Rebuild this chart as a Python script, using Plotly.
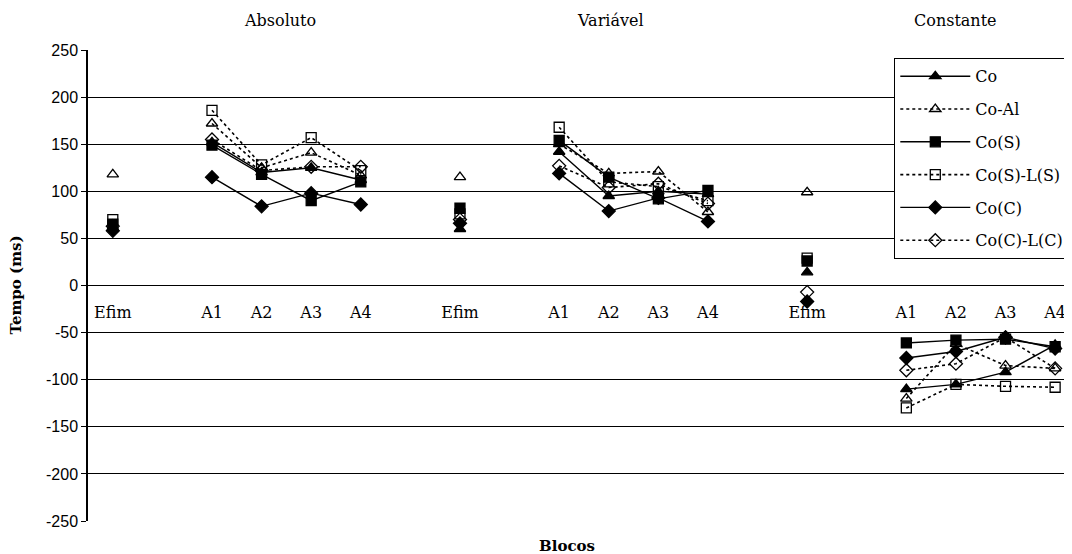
import plotly.graph_objects as go

# Categories along the x axis (three blocks: Absoluto, Variável, Constante)
categories = ["Efim", "", "A1", "A2", "A3", "A4", "",
              "Efim", "", "A1", "A2", "A3", "A4", "",
              "Efim", "", "A1", "A2", "A3", "A4"]
panel_titles = ["Absoluto", "Variável", "Constante"]
y_ticks = [250, 200, 150, 100, 50, 0, -50, -100, -150, -200, -250]

# Values per series: [Efim, A1, A2, A3, A4] for each condition
co_abs = [62, 152, 120, 125, 112]
co_var = [60, 142, 95, 100, 97]
co_con = [14, -110, -105, -92, -63]

coal_abs = [118, 172, 125, 141, 117]
coal_var = [115, 150, 119, 121, 78]
coal_con = [99, -120, -62, -85, -88]

cos_abs = [65, 149, 118, 90, 110]
cos_var = [82, 154, 115, 92, 101]
cos_con = [26, -61, -58, -57, -65]

cosls_abs = [70, 186, 128, 157, 122]
cosls_var = [76, 168, 110, 105, 90]
cosls_con = [29, -130, -105, -107, -108]

coc_abs = [58, 115, 84, 98, 86]
coc_var = [66, 119, 79, 93, 68]
coc_con = [-17, -77, -70, -55, -67]

cocl_abs = [63, 155, 122, 126, 126]
cocl_var = [70, 127, 104, 108, 87]
cocl_con = [-7, -90, -83, -55, -88]

series = [
    ("Co", co_abs, co_var, co_con, "triangle-up", "solid"),
    ("Co-Al", coal_abs, coal_var, coal_con, "triangle-up-open", "dot"),
    ("Co(S)", cos_abs, cos_var, cos_con, "square", "solid"),
    ("Co(S)-L(S)", cosls_abs, cosls_var, cosls_con, "square-open", "dot"),
    ("Co(C)", coc_abs, coc_var, coc_con, "diamond", "solid"),
    ("Co(C)-L(C)", cocl_abs, cocl_var, cocl_con, "diamond-open", "dot"),
]


def build_y(a, v, c):
    # Efim, gap, A1..A4, gap  per panel
    out = []
    for i, p in enumerate((a, v, c)):
        out += [p[0], None] + list(p[1:])
        if i < 2:
            out.append(None)
    return out


x = list(range(len(categories)))
SERIF = "DejaVu Serif"

fig = go.Figure()
for k, (name, a, v, c, sym, dash) in enumerate(series):
    fig.add_trace(go.Scatter(
        x=x, y=build_y(a, v, c), name=name, mode="lines+markers",
        connectgaps=False, legendgroup=f"g{k}",
        line=dict(color="black", width=1.4 if dash == "solid" else 1.6, dash=dash),
        marker=dict(symbol=sym, size=10, color="black",
                    line=dict(color="black", width=1.3)),
    ))

xr = [-0.5, 19.32]
lab_vals = [i for i, t in enumerate(categories) if t]
lab_text = [t for t in categories if t]

# page has an 8px body margin: figure drawn at (8, 8)
PW, PH = 983, 471      # plot area size in px
PL, PB = 88, 521       # plot-area left / bottom in page px

fig.update_layout(
    template="none",
    width=1064, height=546,
    margin=dict(l=80, r=1, t=42, b=33, autoexpand=False),
    plot_bgcolor="white", paper_bgcolor="white",
    font=dict(family=SERIF, color="black", size=16),
    xaxis=dict(range=xr, anchor="free", position=0.5, tickmode="array",
               tickvals=lab_vals, ticktext=lab_text, ticks="outside",
               ticklen=12, tickcolor="rgba(0,0,0,0)", showgrid=False,
               zeroline=False, showline=False, automargin=False,
               tickfont=dict(family=SERIF, size=16, color="black")),
    xaxis2=dict(range=xr, overlaying="x", anchor="free", position=0.5,
                tickmode="array", tickvals=[i + 0.5 for i in range(19)],
                ticks="outside", ticklen=6, tickwidth=1.3, tickcolor="black",
                showticklabels=False, showgrid=False, zeroline=False,
                showline=False, automargin=False),
    xaxis3=dict(range=xr, overlaying="x", anchor="y", side="bottom",
                showline=True, linecolor="black", linewidth=1.5,
                ticks="", showticklabels=False, showgrid=False,
                zeroline=False, automargin=False),
    xaxis4=dict(range=xr, overlaying="x", anchor="y", side="top",
                showline=True, linecolor="black", linewidth=1.3,
                ticks="", showticklabels=False, showgrid=False,
                zeroline=False, automargin=False),
    yaxis=dict(range=[-250, 250], tickmode="array", tickvals=y_ticks,
               ticktext=[str(v) for v in y_ticks], showgrid=True,
               gridcolor="black", gridwidth=1.3, zeroline=False,
               showline=True, linecolor="black", linewidth=1.5,
               ticks="outside", ticklen=5, tickcolor="black", tickwidth=1.3,
               automargin=False,
               tickfont=dict(family="Liberation Sans", size=16, color="black")),
    legend=dict(x=(894 - PL) / PW, y=(PB - 58) / PH, xanchor="left",
                yanchor="top", bgcolor="white", bordercolor="black",
                borderwidth=1.3, itemwidth=70,
                font=dict(family=SERIF, size=16, color="black"),
                tracegroupgap=9, traceorder="grouped"),
    showlegend=True,
)

title_x = [280, 610, 955]
for t, px in zip(panel_titles, title_x):
    fig.add_annotation(text=t, xref="paper", yref="paper",
                       x=(px - PL) / PW, y=(PB - 20) / PH,
                       showarrow=False, xanchor="center", yanchor="middle",
                       font=dict(family=SERIF, size=16, color="black"))

fig.add_annotation(text="<b>Tempo (ms)</b>", xref="paper", yref="paper",
                   x=(15 - PL) / PW, y=0.5, textangle=-90, showarrow=False,
                   xanchor="center", yanchor="middle",
                   font=dict(family=SERIF, size=15, color="black"))
fig.add_annotation(text="<b>Blocos</b>", xref="paper", yref="paper",
                   x=(567 - PL) / PW, y=(PB - 546) / PH, showarrow=False,
                   xanchor="center", yanchor="middle",
                   font=dict(family=SERIF, size=15, color="black"))

fig.write_html("out.html")
